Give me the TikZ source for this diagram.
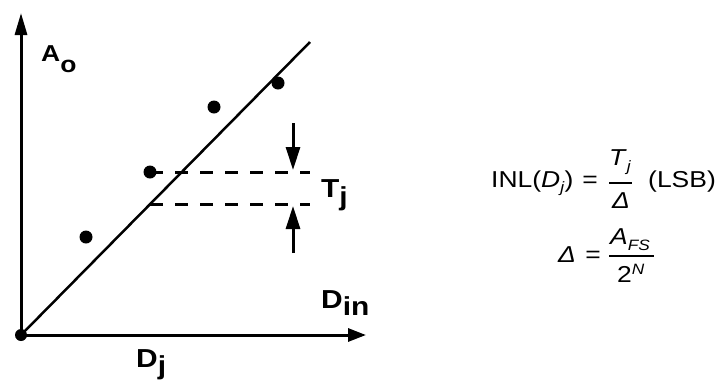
\documentclass[tikz,border=0pt]{standalone}
\usepackage{fontspec}
\usetikzlibrary{arrows.meta}
\newfontfamily\labfont{Liberation Sans}[FakeStretch=1.15]
\newfontfamily\fmfont{Liberation Sans}[FakeStretch=1.15]
\tikzset{
  axis/.style={line width=3pt},
  fitline/.style={line width=2.5pt},
  dashline/.style={line width=3pt, dash pattern=on 13pt off 12pt},
  dot/.style={circle, fill=black, inner sep=0pt, minimum size=13pt},
  lab/.style={inner sep=0pt, font=\labfont\bfseries},
  fm/.style={inner sep=0pt, font=\fmfont\fontsize{23}{26}\selectfont},
  fbar/.style={line width=1.5pt},
  marker/.style={line width=3pt, -{Triangle[length=23pt, width=14pt]}}
}
\begin{document}
\begin{tikzpicture}[x=1pt, y=-1pt]
\useasboundingbox (0,0) rectangle (725,381);
% axes
\coordinate (O) at (21,335);
\coordinate (ytip) at (21,13);
\coordinate (xtip) at (366,335);
\draw[axis, -{Triangle[length=22pt, width=12pt]}] (O) -- (ytip);
\draw[axis, -{Triangle[length=18pt, width=13pt]}] (O) -- (xtip);
\node[dot, minimum size=12pt] (o) at (O) {};
% fit line
\coordinate (L) at (310,42);
\draw[fitline] (O) -- (L);
% data points
\node[dot] (p1) at (86,237) {};
\node[dot] (p2) at (150,172) {};
\node[dot] (p3) at (214,107) {};
\node[dot] (p4) at (278,83) {};
% dashed lines
\coordinate (u2) at (310,172);
\coordinate (l1) at (150,204);
\coordinate (l2) at (310,204);
\draw[dashline] (p2.center) -- (u2);
\draw[dashline] (l1) -- (l2);
% markers
\coordinate (a1s) at (293,123);
\coordinate (a1e) at (293,170);
\coordinate (a2s) at (293,253);
\coordinate (a2e) at (293,206);
\draw[marker] (a1s) -- (a1e);
\draw[marker] (a2s) -- (a2e);
% labels
\node[lab, anchor=base west] (ao) at (41,61) {\fontsize{23}{26}\selectfont A\raisebox{-11pt}{o}};
\node[lab, anchor=base west] (din) at (321,308) {\fontsize{26}{29}\selectfont D\raisebox{-7pt}{in}};
\node[lab, anchor=base west] (tj) at (321,197) {\fontsize{26}{29}\selectfont T\raisebox{-8pt}{j}};
\node[lab, anchor=base west] (dj) at (136,367) {\fontsize{26}{29}\selectfont D\raisebox{-7pt}{j}};
% formula row 1
\node[fm, anchor=base west] (inl) at (491,187) {INL(\textit{D}\raisebox{-5pt}{\fontsize{15}{17}\selectfont\textit{j}})};
\node[fm, anchor=base] (eq1) at (590,187) {=};
\node[fm, anchor=base] (t1) at (620,165) {\textit{T}\raisebox{-6pt}{\fontsize{15}{17}\selectfont\textit{j}}};
\coordinate (b1l) at (609,183);
\coordinate (b1r) at (632,183);
\draw[fbar] (b1l) -- (b1r);
\node[fm, anchor=base] (d1) at (621,208) {\textit{Δ}};
\node[fm, anchor=base west] (lsb) at (648,187) {(LSB)};
% formula row 2
\node[fm, anchor=base west] (d2) at (558,262) {\textit{Δ}};
\node[fm, anchor=base] (eq2) at (593,262) {=};
\coordinate (b2l) at (609,256);
\coordinate (b2r) at (654,256);
\draw[fbar] (b2l) -- (b2r);
\node[fm, anchor=base west] (afs) at (610,244) {\textit{A}\raisebox{-6pt}{\fontsize{15}{17}\selectfont\textit{FS}}};
\node[fm, anchor=base west] (twon) at (617,282) {2\raisebox{8pt}{\fontsize{15}{17}\selectfont\textit{N}}};
\end{tikzpicture}
\end{document}
